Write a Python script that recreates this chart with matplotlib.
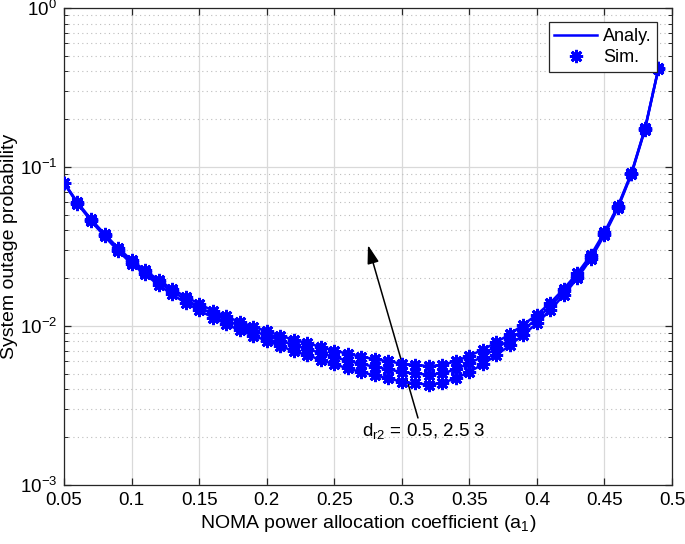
"""System outage probability vs. NOMA power allocation coefficient."""

import matplotlib
matplotlib.use("Agg")
import matplotlib.pyplot as plt
from matplotlib.lines import Line2D
from matplotlib.ticker import FixedLocator, FuncFormatter, LogLocator, NullFormatter

# power allocation coefficient a1
a1 = [0.05, 0.06, 0.07, 0.08, 0.09, 0.10, 0.11, 0.12, 0.13, 0.14,
      0.15, 0.16, 0.17, 0.18, 0.19, 0.20, 0.21, 0.22, 0.23, 0.24,
      0.25, 0.26, 0.27, 0.28, 0.29, 0.30, 0.31, 0.32, 0.33, 0.34,
      0.35, 0.36, 0.37, 0.38, 0.39, 0.40, 0.41, 0.42, 0.43, 0.44,
      0.45, 0.46, 0.47, 0.48, 0.49]

# outage probability, d_r2 = 0.5
out_d05 = [0.0792, 0.0589, 0.0458, 0.0367, 0.0297, 0.0247, 0.0211, 0.0182,
           0.0158, 0.0140, 0.0126, 0.0113, 0.0103, 0.00939, 0.00869, 0.00809,
           0.00748, 0.00697, 0.00655, 0.00614, 0.00574, 0.00543, 0.00512,
           0.00490, 0.00468, 0.00447, 0.00436, 0.00428, 0.00439, 0.00468,
           0.00514, 0.00575, 0.00656, 0.00757, 0.00882, 0.0104, 0.0126,
           0.0157, 0.0200, 0.0265, 0.0374, 0.0553, 0.0902, 0.172, 0.416]

# outage probability, d_r2 = 2.5
out_d25 = [0.0796, 0.0595, 0.0464, 0.0374, 0.0303, 0.0254, 0.0218, 0.0189,
           0.0165, 0.0147, 0.0132, 0.0119, 0.0109, 0.0100, 0.00930, 0.00870,
           0.00809, 0.00759, 0.00718, 0.00677, 0.00637, 0.00606, 0.00576,
           0.00555, 0.00534, 0.00513, 0.00503, 0.00494, 0.00504, 0.00534,
           0.00582, 0.00643, 0.00723, 0.00823, 0.00951, 0.0111, 0.0133,
           0.0165, 0.0207, 0.0272, 0.0382, 0.0561, 0.0911, 0.174, 0.418]

# outage probability, d_r2 = 3
out_d3 = [0.0800, 0.0600, 0.0470, 0.0380, 0.0310, 0.0260, 0.0224, 0.0195,
          0.0171, 0.0153, 0.0138, 0.0125, 0.0115, 0.0106, 0.0099, 0.0093,
          0.0087, 0.0082, 0.0078, 0.0074, 0.0070, 0.0067, 0.0064, 0.0062,
          0.0060, 0.0058, 0.0057, 0.0056, 0.0057, 0.0060, 0.0065, 0.0071,
          0.0079, 0.0089, 0.0102, 0.0118, 0.0140, 0.0172, 0.0215, 0.028,
          0.039, 0.057, 0.092, 0.175, 0.42]

x_ticks = [0.05, 0.1, 0.15, 0.2, 0.25, 0.3, 0.35, 0.4, 0.45, 0.5]

BLUE = "#0000ff"
AX_COLOR = "#262626"
STAR = (8, 2, 0)  # MATLAB-like asterisk


def set_matlab_style() -> None:
    """Rough MATLAB look."""
    plt.rcParams.update({
        "font.family": ["Liberation Sans", "DejaVu Sans"],
        "font.size": 13,
        "mathtext.fontset": "custom",
        "mathtext.rm": "Liberation Sans",
        "mathtext.it": "Liberation Sans:italic",
        "axes.edgecolor": AX_COLOR,
        "axes.linewidth": 0.9,
        "xtick.direction": "in",
        "ytick.direction": "in",
        "xtick.top": True,
        "ytick.right": True,
        "xtick.color": AX_COLOR,
        "ytick.color": AX_COLOR,
        "xtick.labelcolor": "black",
        "ytick.labelcolor": "black",
    })


set_matlab_style()
fig = plt.figure(figsize=(6.85, 5.44), dpi=100)
ax = fig.add_axes([0.0934, 0.1085, 0.8876, 0.8765])

for i, series in enumerate([out_d05, out_d25, out_d3]):
    ax.plot(a1, series, color=BLUE, linewidth=1.8,
            label="Analy." if i == 0 else None, zorder=3)
    ax.plot(a1, series, linestyle="none", marker=STAR, markersize=9.5,
            markeredgewidth=2.0, color=BLUE,
            label="Sim." if i == 0 else None, zorder=4)

ax.set_yscale("log")
ax.set_xlim(0.05, 0.5)
ax.set_ylim(1e-3, 1)

ax.xaxis.set_major_locator(FixedLocator(x_ticks))
ax.xaxis.set_major_formatter(FuncFormatter(lambda v, _: f"{v:g}"))
ax.yaxis.set_major_locator(LogLocator(base=10, numticks=10))
ax.yaxis.set_minor_locator(LogLocator(base=10, subs=range(2, 10), numticks=10))
ax.yaxis.set_minor_formatter(NullFormatter())
ax.tick_params(which="major", length=5, width=0.9, labelsize=13.5, pad=5)
ax.tick_params(which="minor", length=3, width=0.7)

ax.grid(True, which="major", color="#d9d9d9", linewidth=0.9, linestyle="-", zorder=0)
ax.yaxis.grid(True, which="minor", color="#bdbdbd", linewidth=0.8,
              linestyle=(0, (1, 3)), zorder=0)
ax.set_axisbelow(True)

ax.set_xlabel(r"NOMA power allocation coefficient (a$_1$)", fontsize=14, labelpad=3)
ax.set_ylabel("System outage probability", fontsize=14, labelpad=1)

ax.annotate("", xy=(0.275, 0.0323), xytext=(0.312, 0.00264),
            arrowprops=dict(arrowstyle="-|>,head_length=0.7,head_width=0.22",
                            color="black", lw=1.1, mutation_scale=16,
                            shrinkA=0, shrinkB=0))
ax.text(0.2706, 0.00203, r"d$_{\mathrm{r2}}$ = 0.5, 2.5 3", fontsize=13.5,
        ha="left", va="baseline")

handles = [Line2D([], [], color=BLUE, linewidth=1.8),
           Line2D([], [], color=BLUE, linestyle="none", marker=STAR,
                  markersize=9.5, markeredgewidth=2.0)]
leg = ax.legend(handles, ["Analy.", "Sim."], loc="upper right",
                bbox_to_anchor=(0.975, 0.97), fancybox=False, framealpha=1,
                edgecolor=AX_COLOR, fontsize=13, handlelength=2.4,
                borderpad=0.3, labelspacing=0.25, handletextpad=0.3,
                borderaxespad=0)
leg.get_frame().set_linewidth(0.9)

fig.savefig("out.png", dpi=100, facecolor="white")
plt.close(fig)
